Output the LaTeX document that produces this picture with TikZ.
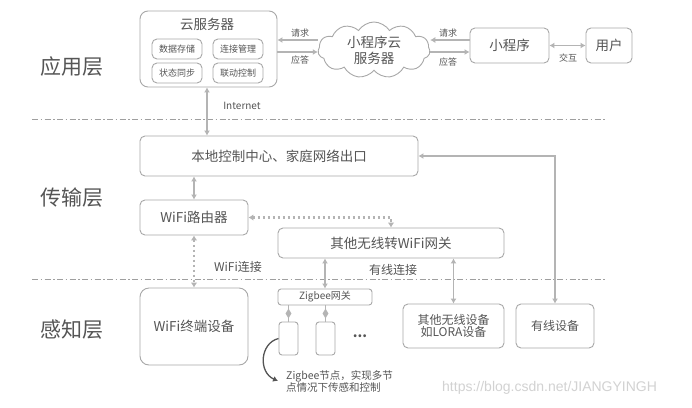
\documentclass[tikz,border=0pt]{standalone}
\usepackage{fontspec}
\setmainfont{Noto Sans CJK SC}
\newfontfamily\wmfont{Liberation Sans}
\usetikzlibrary{arrows.meta,shapes.symbols,shapes.geometric,calc}
\definecolor{txt}{HTML}{555555}
\definecolor{ln}{HTML}{A8A8A8}
\definecolor{ar}{HTML}{B4B4B4}
\newcommand\fsBig{\fontsize{21}{24}\selectfont}
\newcommand\fsMid{\fontsize{13.5}{16}\selectfont}
\newcommand\fsTw{\fontsize{12}{14}\selectfont}
\newcommand\fsSm{\fontsize{10}{12}\selectfont}
\newcommand\fsXs{\fontsize{9}{11}\selectfont}
\newcommand\fsAn{\fontsize{10.5}{12}\selectfont}
\begin{document}
\begin{tikzpicture}[x=1pt,y=-1pt,
 box/.style={draw=ln, line width=0.9pt, rounded corners=5pt, inner sep=0pt, text=txt, align=center},
 arr/.style={draw=ar, line width=1.8pt, -{Latex[length=5pt,width=6pt]}},
 darr/.style={draw=ar, line width=1.8pt, {Latex[length=5pt,width=6pt]}-{Latex[length=5pt,width=6pt]}},
 dotarr/.style={draw=ar, line width=2.3pt, dash pattern=on 2.3pt off 2.7pt, {Latex[length=5pt,width=6.5pt]}-{Latex[length=5pt,width=6.5pt]}},
 sep/.style={draw=gray!75, line width=0.9pt, dash pattern=on 6pt off 2.5pt on 1.5pt off 2.5pt},
 lbl/.style={text=txt, inner sep=0pt},
 dmark/.style={diamond, fill=ar, inner sep=0pt, minimum width=6pt, minimum height=10pt},
]
\useasboundingbox[fill=white] (0,0) rectangle (692,407);

% layer separators
\draw[sep] (32,119) -- (605,119);
\draw[sep] (32,279) -- (605,279);

% layer labels
\node[lbl, font=\fsBig] (lapp) at (72,67) {应用层};
\node[lbl, font=\fsBig] (ltr) at (72,198) {传输层};
\node[lbl, font=\fsBig] (lpe) at (72,330) {感知层};

% application layer
\node[box, rounded corners=8pt, minimum width=137pt, minimum height=76pt] (srv) at (208.5,49) {};
\node[lbl, font=\fsMid] (srvt) at (207,24) {云服务器};
\node[box, minimum width=50pt, minimum height=20pt, font=\fsXs] (ds) at (177,49) {数据存储};
\node[box, minimum width=50pt, minimum height=20pt, font=\fsXs] (lj) at (238,49) {连接管理};
\node[box, minimum width=50pt, minimum height=20pt, font=\fsXs] (zt) at (177,73) {状态同步};
\node[box, minimum width=50pt, minimum height=20pt, font=\fsXs] (ld) at (238,73) {联动控制};

\node[cloud, draw=ln, line width=0.9pt, cloud puffs=11, cloud puff arc=115, aspect=2,
      minimum width=112pt, minimum height=56pt, inner sep=0pt, text=txt, align=center,
      font=\fsMid] (cloud) at (374,50) {小程序云\\服务器};
\node[box, minimum width=79pt, minimum height=35pt, font=\fsMid] (mp) at (509.5,45.5) {小程序};
\node[box, minimum width=46pt, minimum height=35pt, font=\fsMid] (user) at (609,45.5) {用户};

\draw[arr] ([yshift=9pt]srv.east -| cloud.west) -- ([yshift=9pt]srv.east);
\draw[arr] ([yshift=-3pt]srv.east) -- ([yshift=-3pt]srv.east -| cloud.west);
\draw[arr] ([yshift=5.5pt]mp.west) -- ([yshift=5.5pt]mp.west -| cloud.east);
\draw[arr] ([yshift=-6.5pt]mp.west -| cloud.east) -- ([yshift=-6.5pt]mp.west);
\draw[darr] (mp.east) -- (user.west);

\node[lbl, font=\fsXs] (q1) at (300,33) {请求};
\node[lbl, font=\fsXs] (a1) at (300,60) {应答};
\node[lbl, font=\fsXs] (q2) at (448,33) {请求};
\node[lbl, font=\fsXs] (a2) at (448,62) {应答};
\node[lbl, font=\fsXs] (jh) at (568,58) {交互};

% transport layer
\node[box, minimum width=278pt, minimum height=40pt, font=\fsMid] (local) at (279,156) {本地控制中心、家庭网络出口};
\node[box, minimum width=108pt, minimum height=35pt, font=\fsMid] (router) at (194,217.5) {WiFi路由器};
\node[box, minimum width=226pt, minimum height=30pt, font=\fsMid] (gw) at (391,243) {其他无线转WiFi网关};

\draw[darr] (srv.south -| 207,0) -- (local.north -| 207,0);
\node[lbl, font=\fsSm] (inet) at (242,106) {Internet};
\draw[darr] (router.north) -- (router.north |- local.south);
\draw[dotarr] (router.east) -- (router.east -| gw.north) -- (gw.north);

% perception layer
\node[box, rounded corners=9pt, minimum width=108pt, minimum height=77pt, font=\fsMid] (wifidev) at (194,326.5) {WiFi终端设备};
\node[box, rounded corners=3pt, minimum width=94pt, minimum height=16pt, font=\fsSm] (zgw) at (325,297) {Zigbee网关};
\node[box, rounded corners=3pt, minimum width=19pt, minimum height=33pt] (n1) at (288.5,338.5) {};
\node[box, rounded corners=3pt, minimum width=19pt, minimum height=33pt] (n2) at (325.5,338.5) {};
\node[lbl, font=\fsMid] (dots) at (360,336) {\textbf{...}};
\node[box, minimum width=101pt, minimum height=44pt, font=\fsTw] (other) at (453.5,326) {其他无线设备\\[-2pt]如LORA设备};
\node[box, minimum width=78pt, minimum height=44pt, font=\fsTw] (wired) at (555,326) {有线设备};

\draw[dotarr] (router.south) -- (wifidev.north);
\node[lbl, font=\fsTw] (wlj) at (238,267) {WiFi连接};
\draw[darr] (zgw.north) -- (zgw.north |- gw.south);
\draw[darr] (other.north) -- (other.north |- gw.south);
\node[lbl, font=\fsTw] (ylj) at (393,270) {有线连接};
\draw[darr] (wired.north) |- (local.east);

\draw[draw=ar, line width=1.2pt] (n1.north) -- (n1.north |- zgw.south);
\draw[draw=ar, line width=1.2pt] (n2.north) -- (n2.north |- zgw.south);
\node[dmark] (d1) at ($(n1.north)!0.5!(n1.north |- zgw.south)$) {};
\node[dmark] (d2) at ($(n2.north)!0.5!(n2.north |- zgw.south)$) {};

\coordinate (ce) at (278,381);
\draw[draw=txt, line width=1.3pt, -{Latex[length=5pt,width=6pt]}] (n1.west) .. controls (260,343) and (258,372) .. (ce);
\node[lbl, font=\fsAn, anchor=north west, align=left] (anno) at (286,370) {Zigbee节点，实现多节\\点情况下传感和控制};

\node[anchor=west, inner sep=0pt, text=gray!35, font=\wmfont\fontsize{14}{16}\selectfont] (wm) at (442,388) {https://blog.csdn.net/JIANGYINGH};
\end{tikzpicture}
\end{document}
